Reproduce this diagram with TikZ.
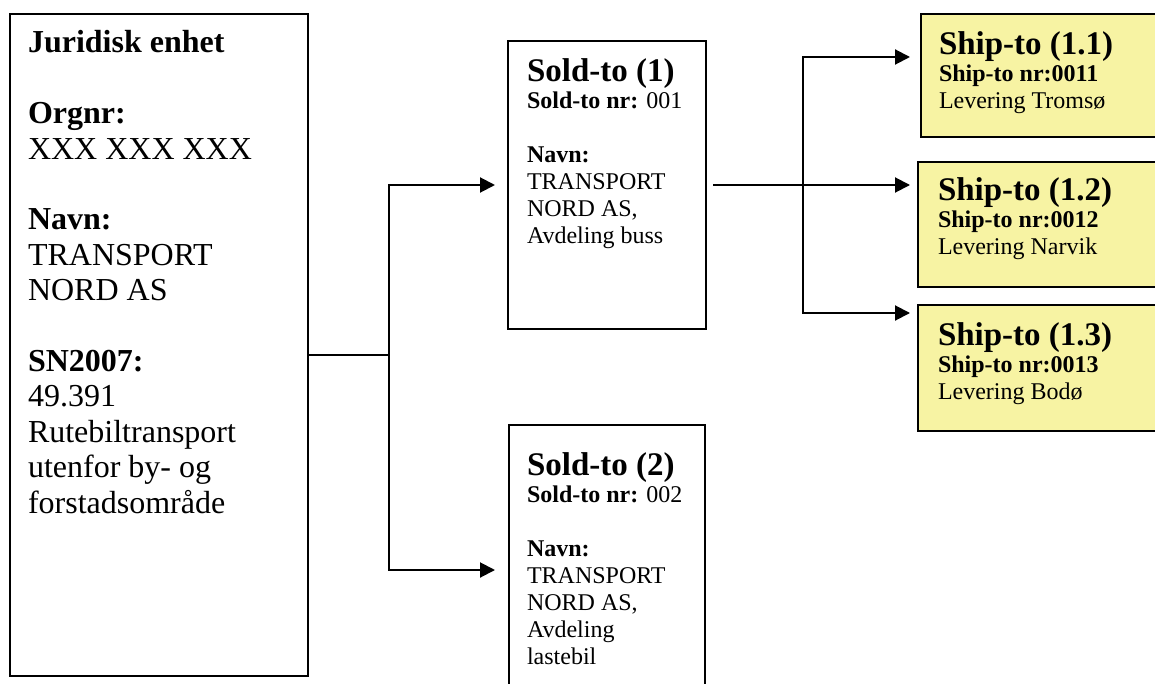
\documentclass[tikz,border=0pt]{standalone}
\usepackage{fontspec}
\setmainfont{Liberation Serif}
\usetikzlibrary{arrows.meta}
\definecolor{shipyellow}{RGB}{247,243,163}
\tikzset{
  box/.style={draw=black, line width=0.9pt, inner sep=0pt, outer sep=0pt, anchor=north west},
  shipbox/.style={box, fill=shipyellow},
  txt/.style={anchor=base west, inner sep=0pt, outer sep=0pt},
  conn/.style={draw=black, line width=1pt},
  arr/.style={conn, -{Triangle[length=7.5pt, width=7.5pt]}}
}
\newcommand{\bigtxt}{\fontsize{16}{17.7}\selectfont}
\newcommand{\smalltxt}{\fontsize{12}{13.5}\selectfont}
\newcommand{\titletxt}{\fontsize{16.5}{13.5}\selectfont\bfseries}
\begin{document}
\begin{tikzpicture}[x=0.5pt, y=-0.5pt]
\useasboundingbox (0,0) rectangle (1155,684);
\clip (0,0) rectangle (1155,684);
% boxes
\node[box, minimum width=149pt, minimum height=331pt] (J) at (10,14) {};
\node[box, minimum width=99pt, minimum height=144pt] (S1) at (508,41) {};
\node[box, minimum width=98pt, minimum height=137.5pt] (S2) at (509,425) {};
\node[shipbox, minimum width=124.5pt, minimum height=61.5pt] (P1) at (921,14) {};
\node[shipbox, minimum width=126pt, minimum height=62.5pt] (P2) at (918,162) {};
\node[shipbox, minimum width=126pt, minimum height=63pt] (P3) at (918,305) {};
% texts
\node[txt] (Jt) at (28,53) {\parbox[t]{140pt}{\bigtxt
\textbf{Juridisk enhet}\\[\baselineskip]
\textbf{Orgnr:}\\
XXX XXX XXX\\[\baselineskip]
\textbf{Navn:}\\
TRANSPORT\\
NORD AS\\[\baselineskip]
\textbf{SN2007:}\\
49.391\\
Rutebiltransport\\
utenfor by- og\\
forstadsområde}};
\node[txt] (S1t) at (527,82) {\parbox[t]{90pt}{\smalltxt
{\titletxt Sold-to (1)}\\
\textbf{Sold-to nr:} 001\\[\baselineskip]
\textbf{Navn:}\\
TRANSPORT\\
NORD AS,\\
Avdeling buss}};
\node[txt] (S2t) at (527,475) {\parbox[t]{90pt}{\smalltxt
{\titletxt Sold-to (2)}\\
\textbf{Sold-to nr:} 002\\[\baselineskip]
\textbf{Navn:}\\
TRANSPORT\\
NORD AS,\\
Avdeling\\
lastebil}};
\node[txt] (P1t) at (939,55) {\parbox[t]{110pt}{\smalltxt
{\titletxt Ship-to (1.1)}\\
\textbf{Ship-to nr:0011}\\
Levering Tromsø}};
\node[txt] (P2t) at (938,200) {\parbox[t]{110pt}{\smalltxt
{\titletxt Ship-to (1.2)}\\
\textbf{Ship-to nr:0012}\\
Levering Narvik}};
\node[txt] (P3t) at (938,345) {\parbox[t]{110pt}{\smalltxt
{\titletxt Ship-to (1.3)}\\
\textbf{Ship-to nr:0013}\\
Levering Bodø}};
% connectors
\coordinate (jb) at (389,355);
\coordinate (s1in) at (495,185);
\coordinate (s2in) at (495,570);
\draw[conn] (J.east |- jb) -- (jb);
\draw[arr] (jb) |- (s1in);
\draw[arr] (jb) |- (s2in);
\coordinate (sb) at (803,185);
\coordinate (p1in) at (910,57);
\coordinate (p2in) at (910,185);
\coordinate (p3in) at (910,313);
\draw[arr] ([xshift=3.5pt]S1.east) -- (p2in);
\draw[arr] (sb) |- (p1in);
\draw[arr] (sb) |- (p3in);
\end{tikzpicture}
\end{document}
